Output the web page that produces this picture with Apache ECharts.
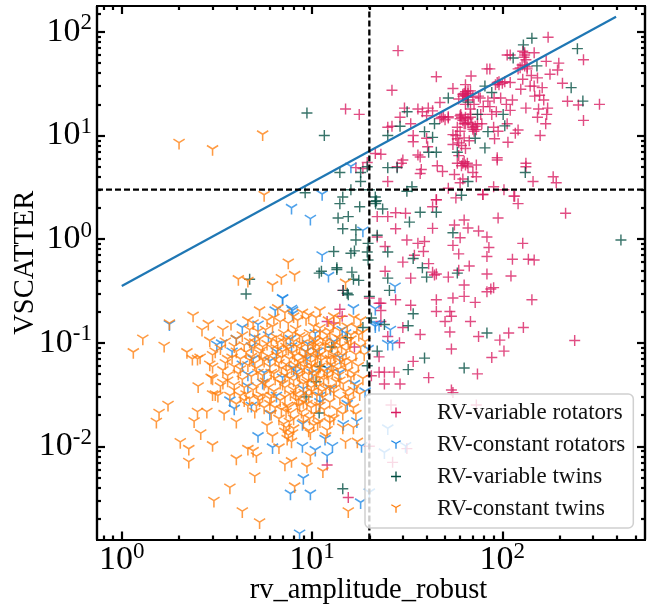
<!DOCTYPE html>
<html><head><meta charset="utf-8">
<style>html,body{margin:0;padding:0;background:#fff}#c{width:656px;height:606px}</style>
<script src="https://cdn.jsdelivr.net/npm/echarts@6/dist/echarts.min.js"></script>
</head><body><div id="c"></div>
<script>
const rotatorsVariable = [[28.3,66],[174,89],[267,54],[324,20],[267,14],[220,21.4],[251,19.7],[207,32],[198,50],[195,43],[178,39],[170,52],[106,60],[110,60],[131,63],[147,63],[124,45],[135,46],[153,36],[147,30],[162,29],[157,24.5],[165,22],[173,18.4],[171,16],[153,15],[169,13],[158,10],[121,11.3],[117,10.5],[106,13],[93,17],[110,17.5],[133,18.4],[110,32.5],[92,31],[96,33],[121,44],[83,44],[86,44],[68.5,37.5],[45,37],[26.3,27.4],[15,18],[17.7,16],[30.6,18.4],[40.8,18.4],[43,17.3],[47,20.8],[55,28.5],[64,31],[66,25.5],[65.5,23.5],[70,23.5],[76.5,23],[90.5,23],[98,23],[79.4,19],[86,19],[60.5,16],[68,16],[49,15.2],[52,15.2],[29,15],[26.3,12.3],[25,12],[34,10],[34,8.7],[40,9.4],[40.5,7.8],[55,10.2],[58,9.3],[55,8.2],[61,15],[66,13.4],[70,12],[73,11.4],[90,12],[95,11],[59,6.4],[58,5.4],[62,5.4],[65.5,5.4],[73,5.2],[70,4.4],[56,4.2],[62,3.8],[60,3.5],[73,4],[37,6.2],[36,6.5],[30,5.8],[29.5,5.4],[28,5],[37.5,4.7],[37,4.3],[45.5,5.1],[48.5,4.5],[25,3.6],[23,6.6],[21.5,6.7],[17,4.9],[18.5,4.8],[19.5,5.5],[90,3.2],[102,3],[52,3.1],[79,2.7],[115,2.6],[45,2.4],[133,5.4],[133,5],[145,3.6],[185,4],[192,3.5],[94,6.1],[94,5.8],[91,9.3],[107,8.6],[62,25],[68,27],[66,22],[71,20],[75,24],[64,20],[59,22.5],[77,16],[68,15],[60,15.5],[64,13],[68,18],[74,13],
[63,25.5],[64,26.5],[65,24],[62,24],[66,27],[64,24.5],[60,14.5],[62,14],[64,15],[66,14.5],[63,13],[70,11.5],[71,11],[72,12.3],[69,12.8],[96,31],[100,32],[103,33],[94,32.5],[130,57],[131,60],[133,54],[128,65],[131,47],[135,44],[127,48],[48,15],[50,14.2],[52,14.8],[47,14.6],[61,5.1],[64,5.2],[66,5],[63,5.6],[40,15.5],[38,17],[36,18],[33,13],[88,16],[60,11],[58,12],[57,10],[61,8],[59,8.5],[64,7.5],[67,8.9],[63,9.5],[78,13],[84,21.5],[105,20],[113,22],[125,28],[128,35],[140,30],[142,38],[148,24],[155,18],
[215,1.78],[240,.105],[143,.26],[128,.91],[85,.83],[83,1.05],[75,1.2],[66,1.28],[95,1.6],[113,.64],[137,.64],[147,.63],[111,.44],[83,.68],[83,.46],[67,.55],[59,.72],[55,.87],[60,1.03],[63,1.53],[56,1.37],[43,1.27],[45,2.4],[43,2.05],[57,2.5],[79,2.7],[116,2.6],[121,2.2],[27.5,1.26],[31.5,.98],[36,.91],[39,.95],[38.5,.76],[30,.6],[34.5,.7],[41,.58],[45,.46],[43,.48],[44,.45],[52,.43],[59,.5],[33,.42],[24.2,.49],[24.2,.85],[22,1.65],[25,1.65],[27.5,1.8],[31,1.78],[22,1.05],[63,.36],[63,.28],[55,.27],[72,.245],[87,.33],[90,.34],[83,.31],[45,.26],[45,.2],[53,.2],[54,.18],[50,.16],[68,.16],[53,.127],[75,.115],[97,.106],[108,.124],[129,.14],[102,.083],[88,.072],[54,.087],[37,.12],[33,.23],[27.5,.26],[23,.24],[23,.205],[23,.16],[30,.14],[25,.115],[28.8,.1],[34,.066],[27,.052],[24,.052],[74,.05],[41,.046],[29,.04],[24,.04],[54,.035],[55,.033],[73,.025],[26,.025],[31.5,.0095],[26.5,.007],[20,.01],[14.4,.18],[12,.16],[13,.155],[14,.21],[22.5,.24],[20,.27],[22.5,.073],[20.5,.048],[22.5,.052],[16.7,.091],[12,.0066],[15.5,.0032],[14.5,.32]];
const rotatorsConstant = [[1.78,.147],[3.16,.093],[3.35,.096],[4,.106],[4.3,.137],[5.2,.146],[5.9,.115],[6.4,.2],[7,.263],[7.8,.207],[7.9,.185],[16.5,.21],[21.5,.207],[21.5,.148],[14.4,.13],[19.7,.085],[7.7,.106],[9.3,.08],[9.4,.068],[4.9,.068],[4.6,.048],[4.6,.037],[8.3,.051],[11,.026],[3.7,.027],[3.9,.0225],[4.8,.024],[6,.02],[8.9,.016],[5.2,.0122],[6.2,.0095],[8.9,.0098],[10.4,.009],[12.8,.0098],[11.7,.0115],[14.6,.016],[17.2,.017],[15.3,.025],[16.7,.039],[12,.0079],[9,.0048],[7.7,.0034],[9.8,.0034],[18,.0028],[8.6,.0014],[18.2,.0098],[16,4.9],[11.3,2.65],[7.8,1.95],[9.8,1.53],[11.3,.68],[12.2,.43],[27.3,.34],[18.5,1.18],[25.8,.13],[21.5,.14],[22.5,.145],[25,.095],[26.5,.095],[7.9,.2],[7,.26],[25,.0145],[24,.0085],[31,.0098],[20,.0035],[19,.033],
[6.5,.08],[7.8,.09],[9.5,.095],[10.7,.08],[10.4,.12],[6,.065],[7,.045],[5,.11],[4.8,.09],[3.8,.08],[4.3,.06],[5.6,.05],[9,.035],[10,.05],[12,.055],[13,.1],[14,.07],[15,.12],[8,.055],[11,.03],[6.5,.03],[5.5,.04],[12.5,.035],[14,.05]];
const twinsVariable = [[9.4,16.5],[11.6,10],[129,75],[143,87],[248,69],[114,56],[152,47],[230,29],[265,21.5],[81,30],[88,26],[52,23],[66,21],[31.6,17],[74,16],[101,16],[29,12.3],[44,13],[103,12.4],[39,10.9],[84,10.9],[25,10],[43,9.6],[72,9.4],[81,7.6],[41,6.9],[45,6.9],[58,6.9],[25,4.9],[28,4.9],[14,4.4],[18,4.4],[19.5,5],[18,3.6],[16,3],[9.2,2.8],[14.5,2.55],[20,3],[21.5,2.55],[33.5,3.2],[31.5,2.9],[66,3.6],[61,2.65],[132,4.4],[420,.98],[21.5,2.3],[21.8,2.35],[21.6,2.2],[23.5,1.95],[14,2.2],[17.8,2.05],[13.7,1.6],[15.5,1.65],[14.5,1.26],[17,1.23],[17,.98],[19.7,.91],[16.7,.77],[16,.73],[19.5,.75],[19.7,.63],[13,.76],[13.5,.53],[11.2,.49],[16.2,.48],[16.5,.41],[17.6,.4],[14.6,.32],[15.3,.3],[20,.28],[25,.75],[22,1.09],[32.5,1.46],[37,1.82],[45,1.82],[55,1.15],[34,.65],[38,.53],[40,.43],[58,.47],[25,.42],[25.5,.32],[34,.19],[32,.146],[83,.124],[24,.15],[39,.071],[22,.083],[32,.055],[63,.057],[19.5,.06],[20.5,.173],[18.5,.14],[4.7,.41],[4.5,.295],[10.9,.47],[13.5,.51],[15.5,.29],[15.3,.112],[12.7,.091],[11,.059],[10.5,.042],[9.3,.03],[10.9,.021],[14.5,.0039]];
const twinsConstant = [[2,8.3],[3,7.2],[5.5,10],[5.6,2.6],[7.5,.58],[4.1,.4],[4.6,.385],[6.2,.35],[6.9,.41],[8.1,.44],[15,.37],[2.37,.178],[2.85,.148],[2.64,.13],[1.78,.15],[1.29,.107],[1.67,.091],[1.15,.079],[2.2,.079],[2.35,.068],[2.5,.068],[2.58,.07],[2.9,.102],[3.75,.148],[4.6,.16],[5.3,.2],[3,.057],[2.52,.037],[2.95,.045],[1.75,.0245],[1.57,.0205],[1.52,.0168],[2.4,.017],[2.5,.021],[2.8,.021],[3.1,.031],[3.45,.02],[4,.0168],[2.6,.013],[2.03,.0107],[2.25,.0092],[2.25,.0069],[3,.01],[4,.0074],[3.7,.0039],[3.05,.0029],[4.3,.0023],[5.3,.0018],[5,.005],[4.6,.0092],[5.1,.0078],[4.9,.0088],[7.2,.0065],[7.8,.007],[9.8,.0079],[9.4,.0062],[11.4,.0056],[8.1,.004],[15.5,.0023],[15,.0107],[17.3,.0108],
[6.2,.14],[8.2,.132],[10.2,.14],[11,.135],[12.9,.142],[15.3,.14],[17.2,.137],[9.3,.165],[11,.2],
[4,.106],[4.7,.1],[5.3,.106],[6.5,.11],[7.3,.106],[8.6,.113],[10.2,.106],[12,.116],[14,.106],[16,.116],[17.6,.116],
[3.3,.086],[4,.08],[4.9,.087],[5.5,.089],[6.2,.086],[7.3,.089],[8.6,.086],[10.2,.089],[11.7,.092],[13.6,.086],[15.8,.092],[18,.089],
[3,.074],[3.6,.068],[4.2,.068],[4.8,.071],[5.5,.068],[6.5,.074],[7.6,.068],[9,.071],[10.7,.071],[12.5,.068],[14.5,.074],
[3.4,.053],[3.9,.057],[4.6,.059],[5.1,.055],[6,.057],[6.9,.055],[8.2,.059],[9.7,.055],[11,.057],[12.9,.057],[15,.059],
[3,.044],[3.6,.047],[4.1,.049],[4.8,.046],[5.5,.047],[6.3,.049],[7.2,.047],[8.6,.046],[10.2,.047],[12,.049],[13.8,.047],[16.6,.049],
[3.3,.037],[3.9,.038],[4.4,.036],[5.1,.037],[5.9,.036],[7,.039],[8.2,.037],[9.4,.04],[10.8,.037],[12.4,.036],[14.6,.039],[17.2,.037],
[3,.031],[3.7,.03],[4.5,.031],[5.2,.029],[6.1,.03],[7.2,.029],[8.2,.031],[9.6,.03],[11.4,.029],[13,.032],[15.5,.03],
[4,.025],[4.6,.024],[6,.025],[7.5,.023],[8.6,.024],[10.5,.024],[12.4,.026],[15,.024],
[6.1,.02],[7.7,.0205],[9,.019],[10.2,.02],[12.4,.0185],[14.5,.02],[17,.02],
[7.6,.0168],[5.8,.0155],[7.3,.0148],[9.6,.0138],[12.4,.0165],[14.5,.0148],[16.5,.0148],
[6.2,.0122],[7.9,.013],[9.8,.013],[11.8,.0122],
[5,.062],[5.6,.065],[6.1,.05],[6.7,.062],[7,.08],[7.4,.052],[7.9,.078],[8,.042],[8.4,.065],[8.9,.053],[9.2,.08],[9.5,.042],[9.9,.063],[10.5,.082],[10.6,.05],[11.2,.066],[11.5,.043],[12.2,.08],[12.6,.06],[13.2,.097],[13.4,.041],[4.3,.043],[4.5,.079],[4.9,.034],[5.3,.077],[5.7,.041],[6.3,.033],[6.6,.098],[6.8,.027],[7.1,.12],[7.7,.031],[8,.1],[8.3,.027],[8.8,.095],[9.1,.032],[9.7,.12],[10,.033],[10.4,.1],[11,.122],[11.3,.033],[11.8,.1],[12.4,.126],[13,.075],[14,.127],[14.2,.064],[15.1,.082],[15.4,.052],[16,.105],[16.2,.064],[17,.075],[17.5,.058],[18.4,.122],[19,.1],[18.8,.075],[3.1,.08],[3.5,.1],[2.9,.06],[3.8,.07],[3.2,.03],[6.7,.0095],
[4.4,.092],[4.7,.066],[5,.098],[5.2,.05],[5.4,.082],[5.6,.039],[5.8,.095],[5.9,.072],[6,.028],[6.1,.105],[6.4,.067],[6.4,.044],[6.6,.085],[6.8,.04],[6.9,.07],[7.1,.1],[7.2,.036],[7.3,.06],[7.5,.085],[7.6,.044],[7.8,.055],[7.9,.12],[8,.034],[8.1,.073],[8.3,.09],[8.4,.048],[8.5,.029],[8.7,.062],[8.9,.11],[9,.039],[9.1,.057],[9.2,.07],[9.4,.025],[9.5,.09],[9.6,.048],[9.8,.075],[9.9,.036],[10,.058],[10.1,.096],[10.3,.04],[10.4,.07],[10.6,.03],[10.8,.055],[10.9,.09],[11,.044],[11.1,.075],[11.4,.105],[11.6,.052],[11.8,.035],[12,.068],[12.2,.045],[12.5,.09],[12.8,.051],[13,.035],[13.2,.07],[13.5,.11],[13.7,.054],[14,.042],[14.3,.09],[14.8,.066],[15,.033],[15.5,.1],[16,.045],[16.5,.034],[5.1,.024],[5.5,.03],[6.9,.022],[7.4,.024],[8,.018],[8.8,.021],[9.7,.018],[10.7,.016],[7.1,.016],[7.5,.0125],[7.2,.0135],[7.8,.0108],[7.4,.0115],[4.2,.054],[3.5,.062],[3.9,.09],[4.7,.13],[5.2,.125],[5.7,.13],[6.3,.17],[6.8,.155],[7.5,.15],[8.4,.16],[8.9,.19],[3.4,.13],
[3.6,.042],[3.9,.034],[4.2,.03],[4.4,.027],[3.4,.04],[4.7,.028],[5,.021],[5.3,.027],[5.6,.023],[6.4,.023],[6.7,.018],[7.3,.021],[8.4,.024],[9,.026],[9.9,.023],[11,.024],[11.6,.022],[13.5,.022],[14,.028],[15.8,.027],[16.5,.023],[17.8,.031],[18.5,.044],[13,.018],[11,.017],[9,.0165],[8,.0145],[10.2,.0155],[12,.014],[4.3,.115],[5.8,.16],[4.9,.15],[6.6,.21],[7.2,.19],[8,.175],[9.6,.18],[10.5,.17],[12.2,.16],[13,.175],[14,.165],[16.6,.17],[18,.16]];
const fitLine = [[1,.353],[396,140]];
const xRange = [0.741, 562];
const yRange = [0.00126, 178];
const xMajor = [1,10,100];
const xMinor = [.8,.9,2,3,4,5,6,7,8,9,20,30,40,50,60,70,80,90,200,300,400,500];
const yMajor = [.01,.1,1,10,100];
const yMinor = [.002,.003,.004,.005,.006,.007,.008,.009,.02,.03,.04,.05,.06,.07,.08,.09,.2,.3,.4,.5,.6,.7,.8,.9,2,3,4,5,6,7,8,9,20,30,40,50,60,70,80,90,150];
const xThreshold = 20, yThreshold = 3;
const xName = 'rv_amplitude_robust', yName = 'VSCATTER';
const names = ['RV-variable rotators','RV-constant rotators','RV-variable twins','RV-constant twins'];
const colors = ['#d81b60','#1e88e5','#004d40','#ff7f0e'];

const PLUS = 'path://M43.5 0H56.5V43.5H100V56.5H56.5V100H43.5V56.5H0V43.5H43.5Z';
const TRI = 'path://M43 86.6H57V32.9L104 5.7L97 -5.7L50 21.3L3 -5.7L-4 5.7L43 32.9Z';
const SERIF = '"Liberation Serif","Times New Roman",serif';

function axes(kind, range, major, minor, name) {
  const isX = kind === 'x';
  const sides = isX ? ['bottom','top'] : ['left','right'];
  const out = [];
  sides.forEach((pos, s) => {
    [[major,8],[minor,4]].forEach(([vals,len], m) => {
      const labelled = s === 0 && m === 0;
      const ax = {
        type:'log', logBase:10, min:range[0], max:range[1], position:pos, z:10,
        splitLine:{show:false}, minorTick:{show:false}, minorSplitLine:{show:false},
        axisLine:{show:true, onZero:false, lineStyle:{color:'#000',width:2.2}},
        axisTick:{show:true, inside:true, length:len, customValues:vals, lineStyle:{color:'#000',width:2.2}},
        axisLabel: labelled ? {
          show:true, customValues:vals, margin:isX?3:5, hideOverlap:false, showMinLabel:true, showMaxLabel:true,
          fontFamily:SERIF, color:'#000',
          formatter:v=>'{b|10}{s|'+Math.round(Math.log10(v))+'}',
          rich:{b:{fontSize:34,fontFamily:SERIF,color:'#000',lineHeight:36},
                s:{fontSize:23,fontFamily:SERIF,color:'#000',padding:[0,0,17,0],lineHeight:36}}
        } : {show:false}
      };
      if (labelled) {
        ax.name = name; ax.nameLocation='middle'; ax.nameMoveOverlap=false;
        ax.nameTextStyle = isX ? {fontFamily:SERIF,fontSize:28.5,color:'#000',padding:[0,5,0,0]}
                               : {fontFamily:SERIF,fontSize:28.5,color:'#000',padding:[0,0,0,20]};
        ax.nameGap = isX ? 37 : 57;
      }
      out.push(ax);
    });
  });
  return out;
}
function scatter(i, symbol, data, size) {
  return {type:'scatter', name:names[i], data, symbol, symbolSize:size, silent:true,
    itemStyle:{color:colors[i], opacity:.78}, z:3+i*0.01, animation:false};
}
function guide(data, dash) {
  return {type:'line', data, symbol:'none', silent:true, animation:false, z:3.5,
    lineStyle:{color:dash?'#000':'#1f77b4', width:dash?2.3:2.2, type:dash?[6,3]:'solid'}};
}
const chart = echarts.init(document.getElementById('c'), null, {renderer:'canvas'});
chart.setOption({
  animation:false, backgroundColor:'#fff',
  grid:{left:97,right:11,top:6,bottom:66.5,containLabel:false,outerBoundsMode:'none'},
  xAxis:axes('x',xRange,xMajor,xMinor,xName),
  yAxis:axes('y',yRange,yMajor,yMinor,yName),
  legend:{
    left:365, top:394, orient:'vertical', z:20, selectedMode:false,
    padding:[7,8,8,26], itemGap:9, itemWidth:10, itemHeight:10,
    backgroundColor:'rgba(255,255,255,0.8)', borderColor:'#d0d0d0', borderWidth:1.5, borderRadius:5,
    textStyle:{fontFamily:SERIF,fontSize:23,color:'#111',lineHeight:22,padding:[0,0,0,31]},
    data:[
      {name:names[0],icon:PLUS,itemStyle:{color:colors[0],opacity:1}},
      {name:names[1],icon:TRI,itemStyle:{color:colors[1],opacity:1}},
      {name:names[2],icon:PLUS,itemStyle:{color:colors[2],opacity:1}},
      {name:names[3],icon:TRI,itemStyle:{color:colors[3],opacity:1}}
    ]
  },
  series:[
    scatter(0,PLUS,rotatorsVariable,[11,11]),
    scatter(1,TRI,rotatorsConstant,[12,11]),
    scatter(2,PLUS,twinsVariable,[11,11]),
    scatter(3,TRI,twinsConstant,[12,11]),
    guide(fitLine,false),
    guide([[xThreshold,yRange[0]],[xThreshold,yRange[1]]],true),
    guide([[xRange[0],yThreshold],[xRange[1],yThreshold]],true)
  ]
});
</script></body></html>
